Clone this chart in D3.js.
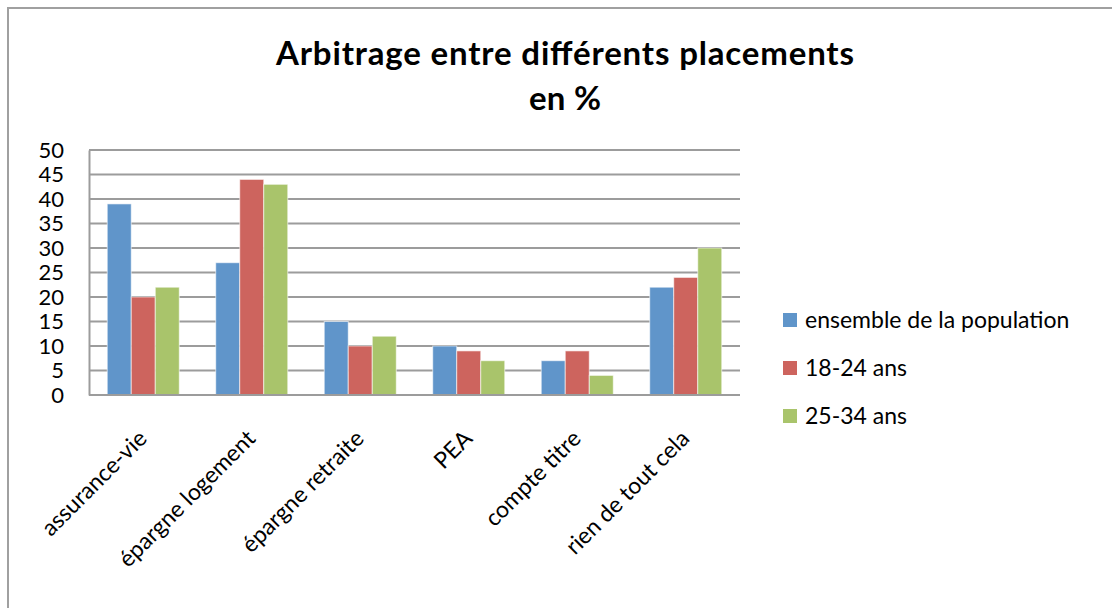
<!DOCTYPE html>
<html>
<head>
<meta charset="utf-8">
<script src="https://cdn.jsdelivr.net/npm/d3@7"></script>
<style>
  body { margin: 0; background: #fff; }
  svg { display: block; font-family: Lato, "Open Sans", sans-serif; }
</style>
</head>
<body>
<svg id="chart" width="1112" height="608"></svg>
<script>
// data
var categories = ["assurance-vie", "épargne logement", "épargne retraite", "PEA", "compte titre", "rien de tout cela"];
var seriesNames = ["ensemble de la population", "18-24 ans", "25-34 ans"];
var ensemble = [39, 27, 15, 10, 7, 22];
var ans18_24 = [20, 44, 10, 9, 9, 24];
var ans25_34 = [22, 43, 12, 7, 4, 30];
var yTicks = [0, 5, 10, 15, 20, 25, 30, 35, 40, 45, 50];
var colors = ["#6095ca", "#cd645e", "#a9c46b"];

var series = [ensemble, ans18_24, ans25_34];

var svg = d3.select("#chart");
var plot = { left: 89, right: 740, top: 150, bottom: 395 };

// chart frame (only top and left edge visible)
svg.append("rect")
  .attr("x", 8).attr("y", 8)
  .attr("width", 1200).attr("height", 700)
  .attr("fill", "none")
  .attr("stroke", "#a0a0a0")
  .attr("stroke-width", 2);

// title
var title = svg.append("text")
  .attr("text-anchor", "middle")
  .attr("font-weight", "bold")
  .attr("font-size", "33px")
  .attr("fill", "#000");
title.append("tspan").attr("x", 565).attr("y", 65)
  .attr("textLength", 578)
  .text("Arbitrage entre différents placements");
title.append("tspan").attr("x", 565).attr("y", 110)
  .attr("textLength", 72)
  .text("en %");

var x = d3.scaleBand()
  .domain(categories)
  .range([plot.left, plot.right])
  .paddingInner(0.336)
  .paddingOuter(0.168);
var xs = d3.scaleBand()
  .domain(d3.range(series.length))
  .range([0, x.bandwidth()]);
var y = d3.scaleLinear()
  .domain([0, 50])
  .range([plot.bottom, plot.top]);

// gridlines
svg.append("g")
  .selectAll("line")
  .data(yTicks)
  .enter()
  .append("line")
  .attr("x1", plot.left)
  .attr("x2", plot.right)
  .attr("y1", function (d) { return y(d) })
  .attr("y2", function (d) { return y(d) })
  .attr("stroke", "#9c9c9c")
  .attr("stroke-width", 2);

// y axis
var yAxis = svg.append("g")
  .attr("transform", "translate(" + plot.left + ",0)")
  .call(d3.axisLeft(y).tickValues(yTicks).tickSize(0).tickPadding(25));
yAxis.select(".domain").attr("stroke", "#9c9c9c").attr("stroke-width", 2);
yAxis.selectAll("text")
  .attr("font-family", "Lato, sans-serif")
  .attr("font-size", "22px")
  .attr("fill", "#000");

// bars
svg.append("g")
  .selectAll("g")
  .data(series)
  .enter()
  .append("g")
  .attr("fill", function (d, i) { return colors[i] })
  .each(function (vals, si) {
    d3.select(this).selectAll("rect")
      .data(vals)
      .enter()
      .append("rect")
      .attr("x", function (d, i) { return x(categories[i]) + xs(si) })
      .attr("y", function (d) { return y(d) })
      .attr("width", xs.bandwidth())
      .attr("height", function (d) { return y(0) - y(d) })
      .attr("stroke", "#ffffff")
      .attr("stroke-opacity", 0.6)
      .attr("stroke-width", 1);
  });

// x axis line
svg.append("line")
  .attr("x1", plot.left).attr("x2", plot.right)
  .attr("y1", y(0)).attr("y2", y(0))
  .attr("stroke", "#9c9c9c")
  .attr("stroke-width", 2);

// x labels, rotated
svg.append("g")
  .selectAll("text")
  .data(categories)
  .enter()
  .append("text")
  .attr("text-anchor", "end")
  .attr("font-size", "23px")
  .attr("fill", "#000")
  .attr("transform", function (d) {
    return "translate(" + (x(d) + x.bandwidth() / 2 + 5) + "," + (y(0) + 45) + ") rotate(-45)";
  })
  .text(function (d) { return d });

// legend
var legend = svg.append("g")
  .selectAll("g")
  .data(seriesNames)
  .enter()
  .append("g")
  .attr("transform", function (d, i) { return "translate(783," + (320 + i * 48) + ")" });
legend.append("rect")
  .attr("x", 0).attr("y", -7)
  .attr("width", 14).attr("height", 14)
  .attr("fill", function (d, i) { return colors[i] });
legend.append("text")
  .attr("x", 22)
  .attr("y", 8)
  .attr("font-size", "23px")
  .attr("fill", "#000")
  .text(function (d) { return d });
</script>
</body>
</html>
